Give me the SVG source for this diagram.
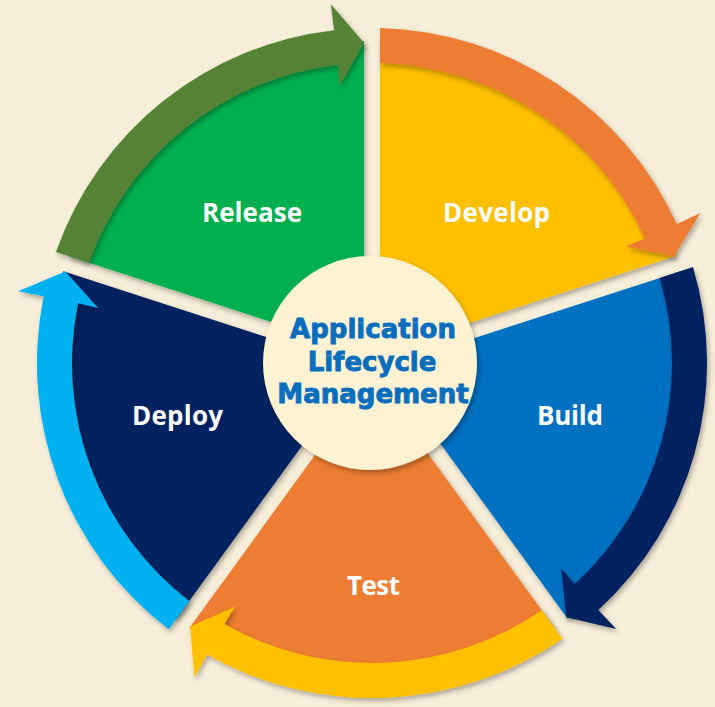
<svg xmlns="http://www.w3.org/2000/svg" width="715" height="707" viewBox="0 0 715 707">
  <defs>
    <filter id="sh" x="-10%" y="-10%" width="120%" height="120%">
      <feDropShadow dx="2" dy="3" stdDeviation="2.5" flood-color="#000" flood-opacity="0.3"/>
    </filter>
    <path id="seg" d="M8,-11 L8,-321.9 A322,322 0 0 1 303.68,-107.08 Z"/>
    <path id="band" d="M8,-334.9 A335,335 0 0 1 304.84,-138.92 L328.5,-150 L301.8,-106.3 L253.9,-116.5 L272.99,-124.41 A300,300 0 0 0 8,-299.9 Z"/>
  </defs>
  <style>
    .lbl { font-family: "Open Sans", Lato, "Liberation Sans", sans-serif; font-weight: bold; font-size: 26px; fill: #ffffff; text-anchor: middle; }
    .ctr { font-family: "DejaVu Sans", "Liberation Sans", sans-serif; font-weight: bold; font-size: 26px; fill: #0a6ebf; stroke: #0a6ebf; stroke-width: 0.9; text-anchor: middle; }
  </style>
  <rect width="715" height="707" fill="#f7eed9"/>

  <g id="develop" filter="url(#sh)">
    <use href="#seg" transform="translate(372,363)" fill="#ffc000"/>
  </g>
  <g id="build" filter="url(#sh)">
    <use href="#seg" transform="translate(372,363) rotate(72)" fill="#0070c0"/>
  </g>
  <g id="test" filter="url(#sh)">
    <use href="#seg" transform="translate(372,363) rotate(144)" fill="#ed7d31"/>
  </g>
  <g id="deploy" filter="url(#sh)">
    <use href="#seg" transform="translate(372,363) rotate(216)" fill="#002060"/>
  </g>
  <g id="release" filter="url(#sh)">
    <use href="#seg" transform="translate(372,363) rotate(288)" fill="#00b050"/>
  </g>

  <g id="connectors">
    <g filter="url(#sh)"><use href="#band" transform="translate(372,363)" fill="#ed7d31"/></g>
    <g filter="url(#sh)"><use href="#band" transform="translate(372,363) rotate(72)" fill="#002060"/></g>
    <g filter="url(#sh)"><use href="#band" transform="translate(372,363) rotate(144)" fill="#ffc000"/></g>
    <g filter="url(#sh)"><use href="#band" transform="translate(372,363) rotate(216)" fill="#00b0f0"/></g>
    <g filter="url(#sh)"><use href="#band" transform="translate(372,363) rotate(288)" fill="#548235"/></g>
  </g>

  <g id="labels">
    <text class="lbl" x="252" y="222" textLength="100">Release</text>
    <text class="lbl" x="496.5" y="222" textLength="107">Develop</text>
    <text class="lbl" x="570" y="425" textLength="66">Build</text>
    <text class="lbl" x="373.5" y="595" textLength="53">Test</text>
    <text class="lbl" x="177.5" y="425" textLength="91">Deploy</text>
  </g>

  <g id="center">
    <circle cx="370" cy="363" r="107" fill="#fdf2d2" filter="url(#sh)"/>
    <text class="ctr" x="373" y="338">Application</text>
    <text class="ctr" x="372" y="371">Lifecycle</text>
    <text class="ctr" x="373" y="403">Management</text>
  </g>
</svg>
